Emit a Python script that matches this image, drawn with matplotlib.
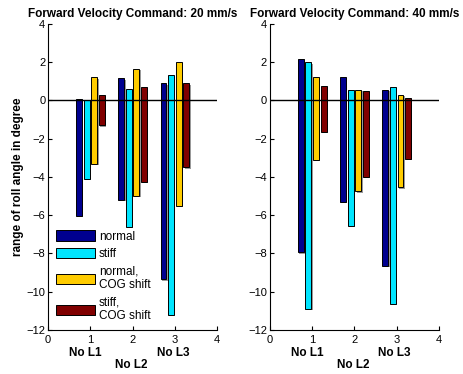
import matplotlib
matplotlib.use('Agg')
import matplotlib.pyplot as plt
import matplotlib.patheffects as pe
import numpy as np

plt.rcParams['font.family'] = ['Liberation Sans', 'DejaVu Sans']

# range of roll angle (max / min) per group L1, L2, L3
series = ['normal', 'stiff', 'normal,\nCOG shift', 'stiff,\nCOG shift']
colores = ['#00008F', '#00E5FF', '#FFCC00', '#800000']
grupos = [1, 2, 3]
grupo_labels = ['No L1', 'No L2', 'No L3']

# 20 mm/s
max_20 = [[0.05, 1.15, 0.9],
          [0.0, 0.6, 1.35],
          [1.2, 1.65, 2.0],
          [0.3, 0.7, 0.9]]
min_20 = [[-6.05, -5.2, -9.35],
          [-4.1, -6.6, -11.2],
          [-3.3, -5.0, -5.5],
          [-1.3, -4.25, -3.5]]

# 40 mm/s
max_40 = [[2.15, 1.2, 0.55],
          [2.0, 0.55, 0.7],
          [1.25, 0.55, 0.3],
          [0.75, 0.5, 0.15]]
min_40 = [[-7.95, -5.3, -8.65],
          [-10.9, -6.55, -10.65],
          [-3.1, -4.75, -4.55],
          [-1.65, -4.0, -3.05]]

titulos = ['Forward Velocity Command: 20 mm/s', 'Forward Velocity Command: 40 mm/s']


def dibujar(ax, vmax, vmin, titulo, leyenda=False):
    offs = [-0.27, -0.09, 0.09, 0.27]
    sombra = [pe.SimplePatchShadow(offset=(1, -1), shadow_rgbFace='0.6', alpha=1), pe.Normal()]
    for k in range(4):
        alto = np.array(vmax[k]) - np.array(vmin[k])
        bars = ax.bar(np.array(grupos) + offs[k], alto, bottom=vmin[k], width=0.14,
                      color=colores[k], edgecolor='black', linewidth=0.7,
                      label=series[k], zorder=3)
        for b in bars:
            b.set_path_effects(sombra)
    ax.plot([0, 4], [0, 0], color='black', linewidth=1, zorder=4)
    ax.set_xlim(0, 4)
    ax.set_ylim(-12, 4)
    ax.set_xticks([0, 1, 2, 3, 4])
    ax.set_yticks(range(-12, 5, 2))
    ax.set_yticklabels([str(v).replace('-', '\u2212') for v in range(-12, 5, 2)])
    ax.tick_params(direction='in', labelsize=8, length=3, pad=2)
    ax.tick_params(axis='x', pad=4)
    ax.spines['top'].set_visible(False)
    ax.spines['right'].set_visible(False)
    ax.set_title(titulo, fontsize=8.5, fontweight='bold', pad=5)
    # etiquetas de grupo debajo del eje
    for x, lab, y in zip([0.88, 1.97, 2.95], grupo_labels, [-0.075, -0.115, -0.075]):
        ax.text(x, y, lab, transform=ax.get_xaxis_transform(), ha='center', va='center',
                fontsize=8.5, fontweight='bold')
    if leyenda:
        ax.legend(loc='lower left', bbox_to_anchor=(0.0, 0.0), frameon=False, fontsize=8.5,
                  handlelength=3.3, handleheight=0.95, handletextpad=0.35,
                  labelspacing=0.45, borderaxespad=0.25)


fig = plt.figure(figsize=(4.63, 3.74), dpi=100)
ax1 = fig.add_axes([0.104, 0.118, 0.365, 0.818])
ax2 = fig.add_axes([0.583, 0.118, 0.365, 0.818])
dibujar(ax1, max_20, min_20, titulos[0], leyenda=True)
dibujar(ax2, max_40, min_40, titulos[1])
ax1.set_ylabel('range of roll angle in degree', fontsize=8.5, fontweight='bold', labelpad=2)

fig.savefig('out.png', dpi=100)
